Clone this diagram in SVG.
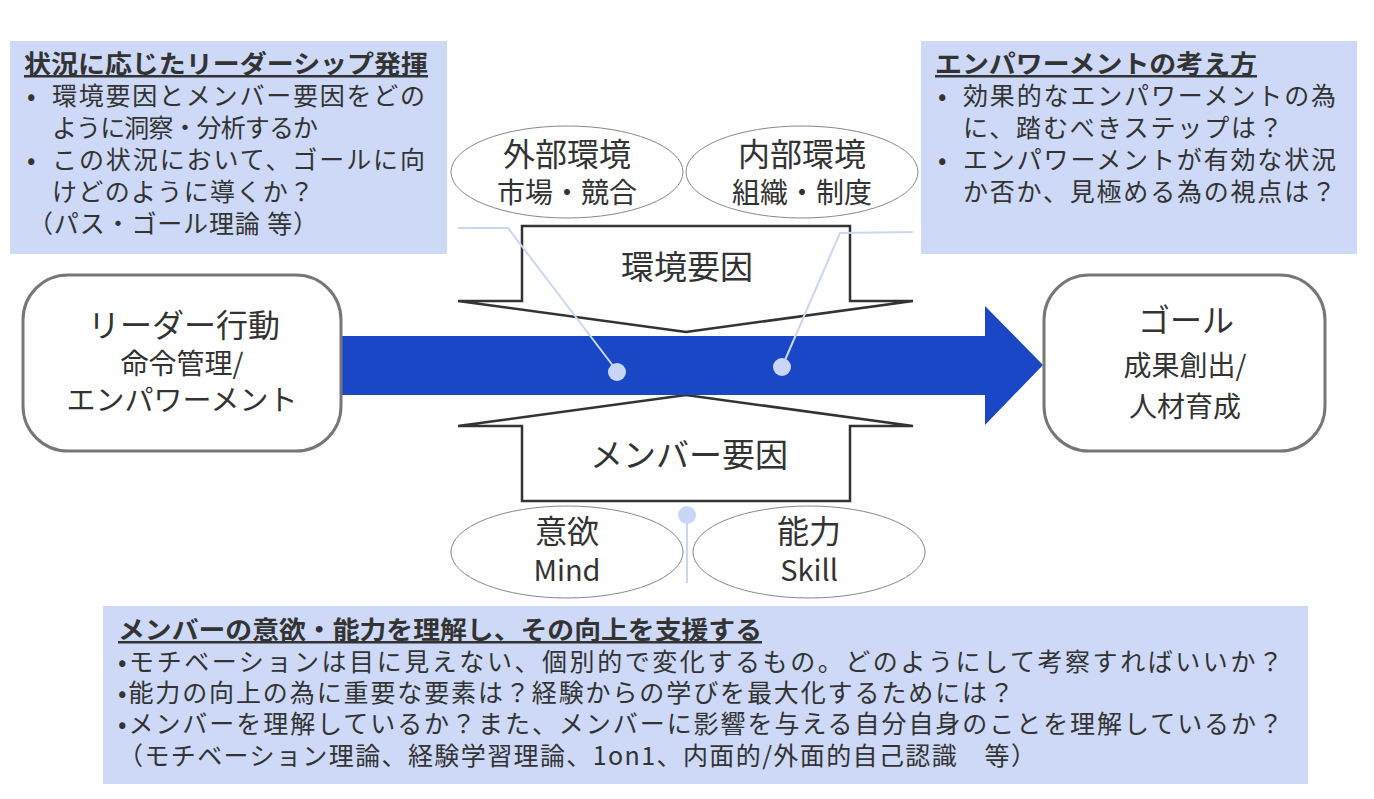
<svg xmlns="http://www.w3.org/2000/svg" width="1374" height="799" viewBox="0 0 1374 799">
<style>
text{font-family:"Noto Sans CJK JP","Noto Sans",sans-serif;fill:#333}
.box{fill:#cdd9f7}
.node{fill:#fff;stroke:#777;stroke-width:3}
.ell{fill:#fff;stroke:#888;stroke-width:1}
.arr{fill:#fff;stroke:#333;stroke-width:2.5}
.ln{fill:none;stroke:#c9d6f5;stroke-width:2}
.dot{fill:#c9d6f5}
.h{font-size:25px;font-weight:bold;text-decoration:underline}
.b{font-size:25px}
.m{font-size:25px}
</style>
<rect width="1374" height="799" fill="#fff"/>
<g id="box-left"><rect class="box" x="10" y="41" width="437" height="213"/>
<text class="h" x="24" y="73" textLength="404" lengthAdjust="spacingAndGlyphs">状況に応じたリーダーシップ発揮</text>
<text class="b" x="27" y="105">•</text><text class="b" x="52" y="105" textLength="373">環境要因とメンバー要因をどの</text>
<text class="b" x="52" y="137" textLength="266">ように洞察・分析するか</text>
<text class="b" x="27" y="169">•</text><text class="b" x="52" y="169" textLength="373">この状況において、ゴールに向</text>
<text class="b" x="52" y="201" textLength="262">けどのように導くか？</text>
<text class="b" x="28" y="233" textLength="290">（パス・ゴール理論 等）</text></g>
<g id="box-right"><rect class="box" x="921" y="41" width="436" height="213"/>
<text class="h" x="935" y="73" textLength="322" lengthAdjust="spacingAndGlyphs">エンパワーメントの考え方</text>
<text class="b" x="938" y="105">•</text><text class="b" x="963" y="105" textLength="373">効果的なエンパワーメントの為</text>
<text class="b" x="938" y="137"> </text><text class="b" x="963" y="137" textLength="320">に、踏むべきステップは？</text>
<text class="b" x="938" y="169">•</text><text class="b" x="963" y="169" textLength="373">エンパワーメントが有効な状況</text>
<text class="b" x="963" y="201" textLength="373">か否か、見極める為の視点は？</text></g>
<g id="box-bottom"><rect class="box" x="103" y="606" width="1205" height="178"/>
<text class="h" x="118" y="639" textLength="644" lengthAdjust="spacingAndGlyphs">メンバーの意欲・能力を理解し、その向上を支援する</text>
<text class="m" x="118" y="671" textLength="1165">•モチベーションは目に見えない、個別的で変化するもの。どのようにして考察すればいいか？</text>
<text class="m" x="118" y="702" textLength="896">•能力の向上の為に重要な要素は？経験からの学びを最大化するためには？</text>
<text class="m" x="118" y="733" textLength="1165">•メンバーを理解しているか？また、メンバーに影響を与える自分自身のことを理解しているか？</text>
<text class="m" x="118" y="765" textLength="918">（モチベーション理論、経験学習理論、1on1、内面的/外面的自己認識　等）</text></g>
<g id="ext"><ellipse class="ell" cx="567" cy="172" rx="116" ry="46"/>
<text x="567" y="166" font-size="32" text-anchor="middle">外部環境</text>
<text x="567" y="203" font-size="28" text-anchor="middle">市場・競合</text></g>
<g id="int"><ellipse class="ell" cx="802" cy="172" rx="116" ry="46"/>
<text x="802" y="166" font-size="32" text-anchor="middle">内部環境</text>
<text x="802" y="203" font-size="28" text-anchor="middle">組織・制度</text></g>
<g id="env"><path class="arr" d="M522,226H850V301H913L686,332L458,301H522Z"/>
<text x="687" y="279" font-size="33" text-anchor="middle">環境要因</text></g>
<g id="mem"><path class="arr" d="M522,501H850V426H913L686,395L458,426H522Z"/>
<text x="689" y="467" font-size="33" text-anchor="middle">メンバー要因</text></g>
<g id="main-arrow"><path d="M342,336H985V306L1043,365L985,425V395H342Z" fill="#1a47c5"/></g>
<g id="mind"><ellipse class="ell" cx="567" cy="552" rx="116" ry="46"/>
<text x="567" y="543" font-size="32" text-anchor="middle">意欲</text>
<text x="567" y="581" font-size="29" text-anchor="middle">Mind</text></g>
<g id="skill"><ellipse class="ell" cx="809" cy="552" rx="116" ry="46"/>
<text x="809" y="543" font-size="32" text-anchor="middle">能力</text>
<text x="809" y="581" font-size="29" text-anchor="middle">Skill</text></g>
<g id="leader"><rect class="node" x="23" y="275" width="318" height="176" rx="45"/>
<text x="184" y="337" font-size="32" text-anchor="middle">リーダー行動</text>
<text x="182" y="374" font-size="28" text-anchor="middle">命令管理/</text>
<text x="182" y="411" font-size="29" text-anchor="middle">エンパワーメント</text></g>
<g id="goal"><rect class="node" x="1044" y="275" width="281" height="176" rx="45"/>
<text x="1186" y="332" font-size="32" text-anchor="middle">ゴール</text>
<text x="1185" y="376" font-size="28" text-anchor="middle">成果創出/</text>
<text x="1185" y="417" font-size="28" text-anchor="middle">人材育成</text></g>
<g id="connectors">
<polyline class="ln" points="458,228 508,228 617,371"/><circle class="dot" cx="617" cy="372" r="9"/>
<polyline class="ln" points="913,232 840,233 782,367"/><circle class="dot" cx="782" cy="367" r="9"/>
<line class="ln" x1="687" y1="515" x2="687" y2="583"/><circle class="dot" cx="687" cy="515" r="9"/>
</g>
</svg>
